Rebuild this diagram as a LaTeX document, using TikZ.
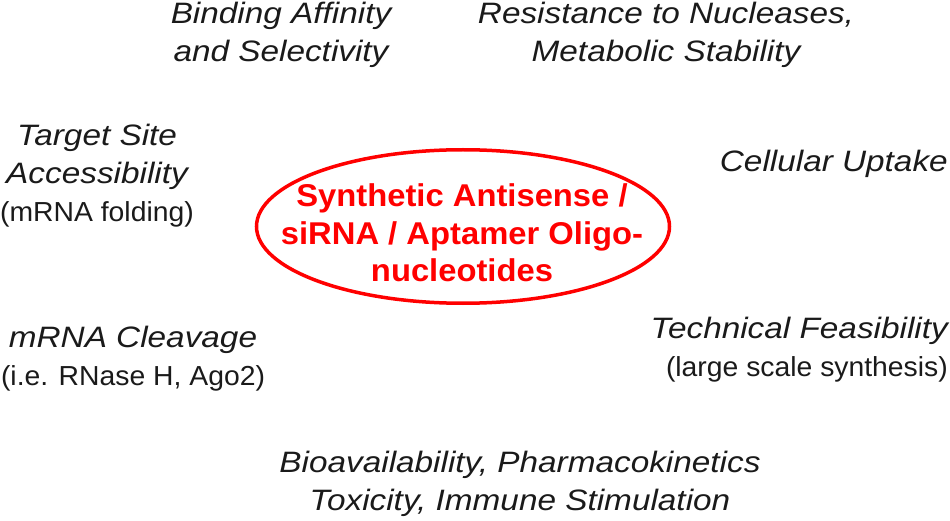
\documentclass[tikz,border=0pt]{standalone}
\usepackage{fontspec}
\setmainfont{Liberation Sans}
\newfontfamily\factorfont[FakeStretch=1.13]{Liberation Sans}
\newfontfamily\subfont[FakeStretch=1.03]{Liberation Sans}
\newfontfamily\corefont[FakeStretch=1.04]{Liberation Sans}
\usetikzlibrary{positioning, shapes.geometric}
\definecolor{corered}{HTML}{FF0000}
\definecolor{darktext}{HTML}{1A1A1A}
\tikzset{
  factor/.style={align=center, inner sep=0pt, text=darktext,
                 font=\factorfont\fontsize{29.5}{38}\selectfont\itshape},
  factorr/.style={factor, align=right},
  core/.style={ellipse, draw=corered, line width=3.5pt, minimum width=413pt,
               minimum height=153.5pt, inner sep=0pt},
  coretext/.style={align=center, text=corered, inner sep=0pt,
                   font=\corefont\fontsize{31.5}{37.5}\selectfont\bfseries},
}
\newcommand{\sub}[1]{{\subfont\fontsize{27.5}{37}\selectfont\upshape #1}}

\begin{document}
\begin{tikzpicture}[x=1pt, y=-1pt]
\useasboundingbox (0,0) rectangle (950,521);

% Centre
\node[core] (core) at (463,226.5) {};
\node[coretext] (coretxt) at (462,233) {Synthetic Antisense /\\siRNA / Aptamer Oligo-\\nucleotides};

% Top row
\node[factor] (binding) at (281,35) {Binding Affinity\\and Selectivity};
\node[factor] (resist) at (666,35) {Resistance to Nucleases,\\Metabolic Stability};

% Left side
\node[factor] (target) at (97,176) {Target Site\\Accessibility\\\sub{(mRNA folding)}};
\node[factor] (cleave) at (133,359) {mRNA Cleavage\\\sub{(i.e. RNase H, Ago2)}};

% Right side
\node[factorr, anchor=east] (uptake) at (948,164) {Cellular Uptake};
\node[factorr, anchor=east] (feas) at (948,350) {Technical Feasibility\\\sub{(large scale synthesis)}};

% Bottom
\node[factor] (bio) at (520,484) {Bioavailability, Pharmacokinetics\\Toxicity, Immune Stimulation};

\end{tikzpicture}
\end{document}
